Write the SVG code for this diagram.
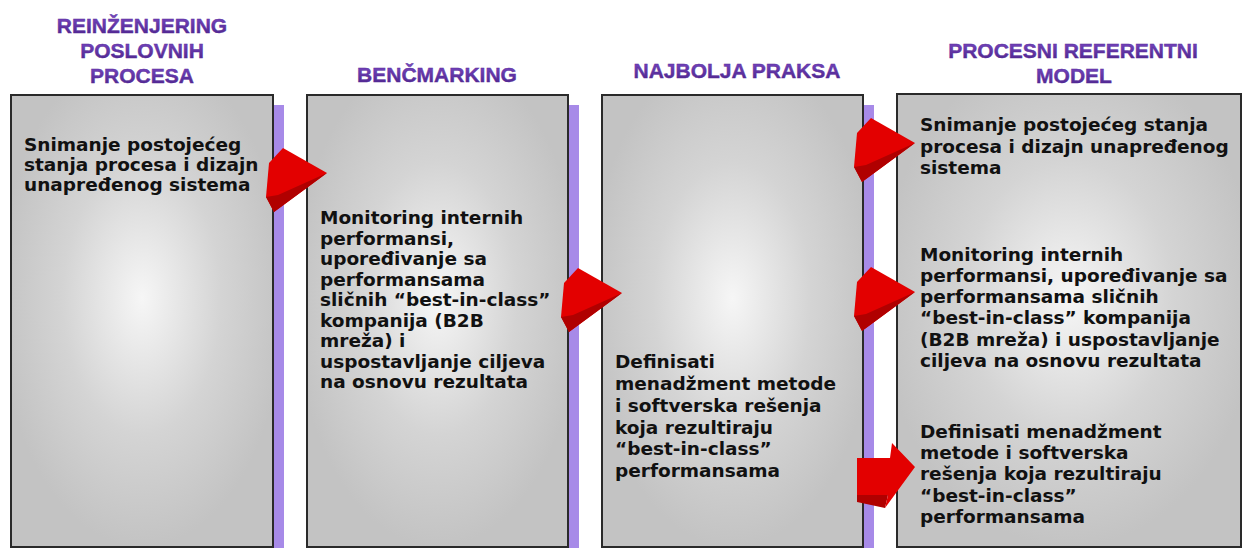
<svg xmlns="http://www.w3.org/2000/svg" width="1244" height="548" viewBox="0 0 1244 548">
<style>
.title{font-family:"Liberation Sans",Arial,sans-serif;font-weight:bold;font-size:21px;fill:url(#tg);stroke:#55289a;stroke-width:0.4;text-anchor:middle}
.body{font-family:"DejaVu Sans","Liberation Sans",sans-serif;font-weight:bold;font-size:18.5px;fill:#111}
.box{fill:url(#bg);stroke:#2a2a2a;stroke-width:2}
.strip{fill:#a78ae8}
.arrowMain{fill:#e30000}
.arrowDark{fill:#b00000}
</style>
<defs>
<linearGradient id="tg" x1="0" y1="0" x2="0" y2="1">
<stop offset="0" stop-color="#7c4ac6"/>
<stop offset="1" stop-color="#4a2388"/>
</linearGradient>
<radialGradient id="bg" cx="0.5" cy="0.45" r="0.55">
<stop offset="0" stop-color="#f6f6f6"/>
<stop offset="0.55" stop-color="#d4d4d4"/>
<stop offset="1" stop-color="#c3c3c3"/>
</radialGradient>
<g id="tri">
<polygon class="arrowMain" points="11,-25 55,0 2,39 -6,24 -3,-10"/>
<polygon class="arrowDark" points="-6,24 2,39 55,0 6,22"/>
</g>
</defs>
<g id="titles">
<text class="title" x="142" y="33">REINŽENJERING</text>
<text class="title" x="142" y="58">POSLOVNIH</text>
<text class="title" x="142" y="83">PROCESA</text>
<text class="title" x="437" y="82">BENČMARKING</text>
<text class="title" x="737" y="78">NAJBOLJA PRAKSA</text>
<text class="title" x="1073" y="58">PROCESNI REFERENTNI</text>
<text class="title" x="1074" y="83">MODEL</text>
</g>
<g id="node1">
<rect class="strip" x="272" y="105" width="12" height="443"/>
<rect class="box" x="11" y="95" width="262" height="452"/>
<text class="body"><tspan x="24" y="151">Snimanje postojećeg</tspan><tspan x="24" y="171">stanja procesa i dizajn</tspan><tspan x="24" y="191">unapređenog sistema</tspan></text>
</g>
<g id="node2">
<rect class="strip" x="567" y="105" width="12" height="443"/>
<rect class="box" x="307" y="95" width="261" height="452"/>
<text class="body"><tspan x="320" y="224">Monitoring internih</tspan><tspan x="320" y="245">performansi,</tspan><tspan x="320" y="265">upoređivanje sa</tspan><tspan x="320" y="286">performansama</tspan><tspan x="320" y="306">sličnih “best-in-class”</tspan><tspan x="320" y="327">kompanija (B2B</tspan><tspan x="320" y="347">mreža) i</tspan><tspan x="320" y="368">uspostavljanje ciljeva</tspan><tspan x="320" y="388">na osnovu rezultata</tspan></text>
</g>
<g id="node3">
<rect class="strip" x="862" y="105" width="12" height="443"/>
<rect class="box" x="602" y="95" width="261" height="452"/>
<text class="body"><tspan x="615" y="368">Definisati</tspan><tspan x="615" y="390">menadžment metode</tspan><tspan x="615" y="412">i softverska rešenja</tspan><tspan x="615" y="434">koja rezultiraju</tspan><tspan x="615" y="455">“best-in-class”</tspan><tspan x="615" y="477">performansama</tspan></text>
</g>
<g id="node4">
<rect class="box" x="897" y="94" width="344" height="453"/>
<text class="body"><tspan x="920" y="131">Snimanje postojećeg stanja</tspan><tspan x="920" y="153">procesa i dizajn unapređenog</tspan><tspan x="920" y="174">sistema</tspan></text>
<text class="body"><tspan x="920" y="261">Monitoring internih</tspan><tspan x="920" y="282">performansi, upoređivanje sa</tspan><tspan x="920" y="303">performansama sličnih</tspan><tspan x="920" y="324">“best-in-class” kompanija</tspan><tspan x="920" y="346">(B2B mreža) i uspostavljanje</tspan><tspan x="920" y="367">ciljeva na osnovu rezultata</tspan></text>
<text class="body"><tspan x="920" y="438">Definisati menadžment</tspan><tspan x="920" y="459">metode i softverska</tspan><tspan x="920" y="480">rešenja koja rezultiraju</tspan><tspan x="920" y="502">“best-in-class”</tspan><tspan x="920" y="523">performansama</tspan></text>
</g>
<g id="connectors">
<use href="#tri" transform="translate(272,173)"/>
<use href="#tri" transform="translate(567,293)"/>
<use href="#tri" transform="translate(860,143)"/>
<use href="#tri" transform="translate(860,292)"/>
<g id="blockArrow">
<polygon class="arrowDark" points="857,495 888,495 885,508 857,502"/>
<polygon class="arrowMain" points="857,458 890,458 892,443 915,467 885,508 888,495 857,495"/>
</g>
</g>
</svg>
